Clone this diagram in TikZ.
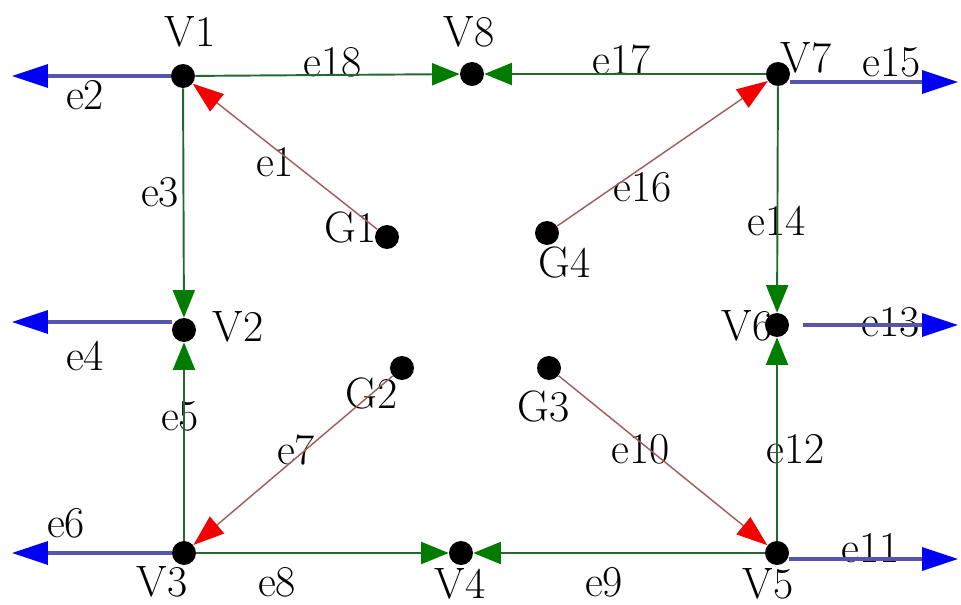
\documentclass[tikz,border=0pt]{standalone}
\usepackage{tikz}
\usetikzlibrary{arrows.meta}
\definecolor{linkgreen}{RGB}{35,105,45}
\definecolor{tipgreen}{RGB}{0,125,0}
\definecolor{outblue}{RGB}{85,85,175}
\definecolor{tipblue}{RGB}{0,0,245}
\definecolor{genred}{RGB}{160,90,90}
\definecolor{tipred}{RGB}{245,0,0}

\begin{document}
\begin{tikzpicture}[
  x=0.02cm, y=-0.02cm,
  font=\fontsize{25}{28}\selectfont,
  bus/.style={circle, fill=black, inner sep=0pt, minimum size=0.48cm},
  lbl/.style={inner sep=0pt},
  link/.style={-{Triangle[length=0.55cm, width=0.44cm, color=tipgreen]}, draw=linkgreen, line width=1.1pt},
  outl/.style={-{Triangle[length=0.72cm, width=0.46cm, color=tipblue]}, draw=outblue, line width=2pt},
  gen/.style={-{Triangle[length=0.62cm, width=0.44cm, color=tipred]}, draw=genred, line width=0.8pt}
]
\useasboundingbox (0,0) rectangle (961,605);
% ---- buses ------------------------------------------------------------------
\node[bus] (v1) at (183,76) {};
\node[bus] (v8) at (472,74) {};
\node[bus] (v7) at (778,74) {};
\node[bus] (v2) at (184,330) {};
\node[bus] (v6) at (777,325) {};
\node[bus] (v3) at (184,553) {};
\node[bus] (v4) at (461,553) {};
\node[bus] (v5) at (777,553) {};
\node[bus] (g1) at (387,237) {};
\node[bus] (g4) at (547,233) {};
\node[bus] (g2) at (402,368) {};
\node[bus] (g3) at (549,368) {};

% ---- free ends --------------------------------------------------------------
\coordinate (o2) at (12,76);
\coordinate (o4) at (12,322);
\coordinate (o6) at (12,553);
\coordinate (o15) at (958,82);
\coordinate (o13) at (958,325);
\coordinate (o11) at (958,559);

% ---- names ------------------------------------------------------------------
\node[lbl] (tv1) at (190,32) {V1};
\node[lbl] (tv8) at (469,32) {V8};
\node[lbl] (tv7) at (806,58) {V7};
\node[lbl] (tv2) at (238,327) {V2};
\node[lbl] (tv6) at (747,326) {V6};
\node[lbl] (tv3) at (162,582) {V3};
\node[lbl] (tv4) at (460,584) {V4};
\node[lbl] (tv5) at (768,584) {V5};
\node[lbl] (tg1) at (351,227) {G1};
\node[lbl] (tg4) at (565,262) {G4};
\node[lbl] (tg2) at (372,393) {G2};
\node[lbl] (tg3) at (544,406) {G3};

% ---- edge labels ------------------------------------------------------------
\node[lbl] (te1) at (275,162) {e1};
\node[lbl] (te2) at (85,95) {e2};
\node[lbl] (te3) at (160,192) {e3};
\node[lbl] (te4) at (85,356) {e4};
\node[lbl] (te5) at (180,416) {e5};
\node[lbl] (te6) at (66,523) {e6};
\node[lbl] (te7) at (296,450) {e7};
\node[lbl] (te8) at (277,582) {e8};
\node[lbl] (te9) at (604,582) {e9};
\node[lbl] (te10) at (641,449) {e10};
\node[lbl] (te11) at (871,548) {e11};
\node[lbl] (te12) at (796,449) {e12};
\node[lbl] (te13) at (891,322) {e13};
\node[lbl] (te14) at (777,221) {e14};
\node[lbl] (te15) at (892,62) {e15};
\node[lbl] (te16) at (643,187) {e16};
\node[lbl] (te17) at (622,60) {e17};
\node[lbl] (te18) at (333,62) {e18};

% ---- edges ------------------------------------------------------------------
\draw[link] (v1) -- (v8);
\draw[link] (v7) -- (v8);
\draw[link] (v1) -- (v2);
\draw[link] (v3) -- (v2);
\draw[link] (v3) -- (v4);
\draw[link] (v5) -- (v4);
\draw[link] (v7) -- (v6);
\draw[link] (v5) -- (v6);
\draw[outl] (v1) -- (o2);
\draw[outl] (v2.west |- o4) -- (o4);
\draw[outl] (v3) -- (o6);
\draw[outl] (v7.east |- o15) -- (o15);
\draw[outl] ([xshift=8pt]v6.east) -- (o13);
\draw[outl] (v5.east |- o11) -- (o11);
\draw[gen] (g1) -- (v1);
\draw[gen] (g2) -- (v3);
\draw[gen] (g3) -- (v5);
\draw[gen] (g4) -- (v7);
\end{tikzpicture}
\end{document}
